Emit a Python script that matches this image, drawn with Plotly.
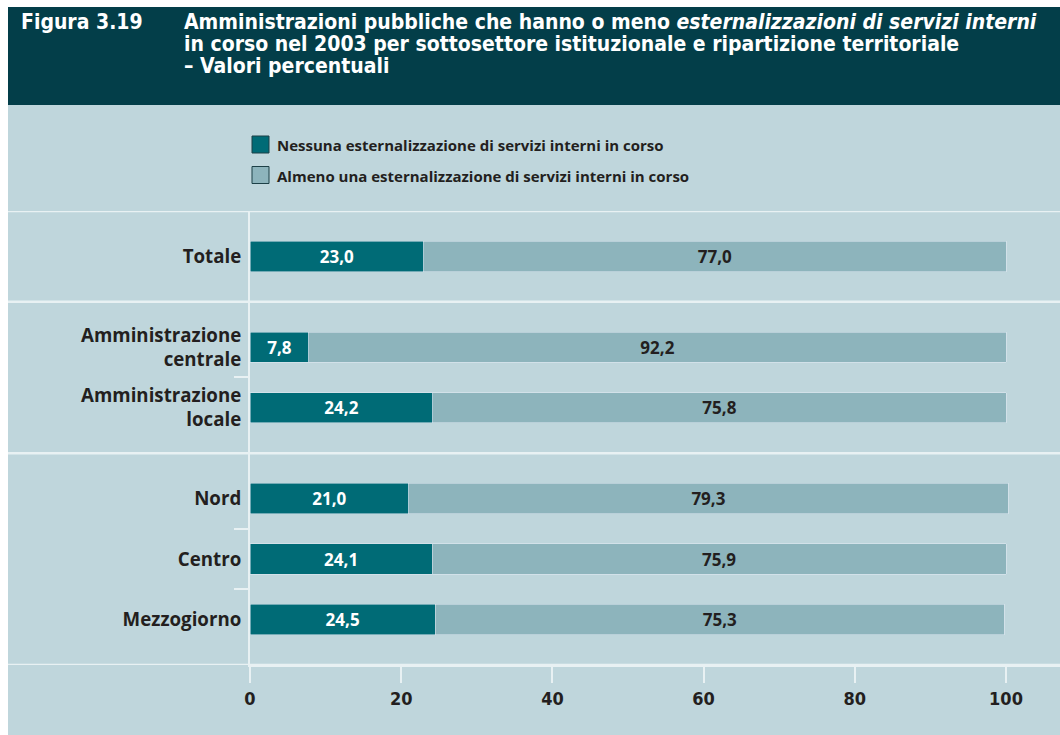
import plotly.graph_objects as go

# data
categories = ["Totale", "Amministrazione<br>centrale", "Amministrazione<br>locale",
              "Nord", "Centro", "Mezzogiorno"]
group = [0, 1, 1, 2, 2, 2]
nessuna = [23.0, 7.8, 24.2, 21.0, 24.1, 24.5]
almeno = [77.0, 92.2, 75.8, 79.3, 75.9, 75.3]
series_names = ["Nessuna esternalizzazione di servizi interni in corso",
                "Almeno una esternalizzazione di servizi interni in corso"]
xticks = [0, 20, 40, 60, 80, 100]
title_lines = ["Amministrazioni pubbliche che hanno o meno <i>esternalizzazioni di servizi interni</i>",
               "in corso nel 2003 per sottosettore istituzionale e ripartizione territoriale",
               "– Valori percentuali"]

HEADER = "#033e49"
PANEL = "#bfd6dc"
DARK = "#006b76"
LIGHT = "#8db4bc"
TXT = "#231f20"
RULE = "#e8f1f3"
BODY_FONT = "Open Sans"
COND_FONT = "DejaVu Sans Condensed"

# body margin is removed below, so figure coords == screen coords
W, H = 1060, 735
ml, mr, mt, mb = 250, 0, 211, 70
pw, ph = W - ml - mr, H - mt - mb
LEFT, TOP = 8, 7  # white border round the panel

def px(x):  # screen x -> paper
    return (x - ml) / pw

def py(y):  # screen y -> paper
    return 1 - (y - mt) / ph

# row positions: extra half step between groups
pos = [i + 0.5 * g for i, g in enumerate(group)]
seps = [pos[0] - 0.75]
minor = []
for i in range(1, len(pos)):
    mid = (pos[i] + pos[i - 1]) / 2
    if group[i] != group[i - 1]:
        seps.append(mid)
    else:
        minor.append(mid)
seps.append(pos[-1] + 0.75)

fig = go.Figure()
fig.add_trace(go.Bar(y=pos, x=nessuna, orientation="h", name=series_names[0],
                     marker_color=DARK, width=0.5,
                     texttemplate="<b>%{x:.1f}</b>", textposition="inside",
                     insidetextanchor="middle",
                     textfont=dict(family=BODY_FONT, size=17, color="white")))
fig.add_trace(go.Bar(y=pos, x=almeno, orientation="h", name=series_names[1],
                     marker_color=LIGHT, width=0.5,
                     texttemplate="<b>%{x:.1f}</b>", textposition="inside",
                     insidetextanchor="middle",
                     textfont=dict(family=BODY_FONT, size=17, color=TXT)))

shapes = [
    dict(type="rect", xref="paper", yref="paper", x0=px(LEFT), x1=1, y0=py(105), y1=py(TOP),
         fillcolor=HEADER, line_width=0, layer="below"),
    dict(type="rect", xref="paper", yref="paper", x0=px(LEFT), x1=1, y0=py(H), y1=py(105),
         fillcolor=PANEL, line_width=0, layer="below"),
]
for s in seps:
    shapes.append(dict(type="line", xref="paper", yref="y", x0=px(LEFT), x1=1, y0=s, y1=s,
                       line=dict(color=RULE, width=2.5)))

annotations = [
    dict(text="<b>Figura 3.19</b>", xref="paper", yref="paper", x=px(19), y=py(22),
         xanchor="left", yanchor="middle", showarrow=False,
         font=dict(family=COND_FONT, size=21, color="white")),
]
for k, line in enumerate(title_lines):
    annotations.append(dict(text="<b>" + line + "</b>", xref="paper", yref="paper",
                            x=px(182), y=py(22 + 22 * k), xanchor="left", yanchor="middle",
                            showarrow=False,
                            font=dict(family=COND_FONT, size=21, color="white")))

# legend drawn by hand
for k, (name, col) in enumerate(zip(series_names, [DARK, LIGHT])):
    top = 136 + k * 30.5
    shapes.append(dict(type="rect", xref="paper", yref="paper", x0=px(252), x1=px(269),
                       y0=py(top + 17), y1=py(top), fillcolor=col,
                       line=dict(color="#1d4047", width=1)))
    annotations.append(dict(text="<b>" + name + "</b>", xref="paper", yref="paper",
                            x=px(275), y=py(top + 9), xanchor="left", yanchor="middle",
                            showarrow=False,
                            font=dict(family=BODY_FONT, size=15, color=TXT)))

fig.update_layout(
    width=W, height=H,
    margin=dict(l=ml, r=mr, t=mt, b=mb),
    barmode="stack",
    separators=",.",
    showlegend=False,
    paper_bgcolor="white",
    plot_bgcolor="rgba(0,0,0,0)",
    shapes=shapes,
    annotations=annotations,
    uniformtext=dict(minsize=17, mode="show"),
    xaxis=dict(range=[0, pw / 7.56], tickvals=xticks, ticktext=[f"<b>{t}</b>" for t in xticks],
               showgrid=False, zeroline=False, showline=True, linecolor=RULE, linewidth=2,
               ticks="outside", ticklen=16, tickwidth=2, tickcolor=RULE,
               tickfont=dict(family=COND_FONT, size=18, color=TXT)),
    yaxis=dict(range=[seps[-1], seps[0]], tickvals=pos,
               ticktext=[f"<b>{c}</b>" for c in categories],
               showgrid=False, zeroline=False, showline=True, linecolor=RULE, linewidth=2,
               ticks="", ticklabelstandoff=3,
               minor=dict(tickvals=minor, ticks="outside", ticklen=14, tickwidth=2,
                          tickcolor=RULE, showgrid=False),
               tickfont=dict(family=BODY_FONT, size=18.7, color=TXT)),
)

# drop the default page margin and scrollbars so the figure fills the window
fig.write_html("out.html", config={"displayModeBar": False},
               post_script="document.body.style.margin='0';"
                           "document.documentElement.style.overflow='hidden';"
                           "document.body.style.overflow='hidden';")
